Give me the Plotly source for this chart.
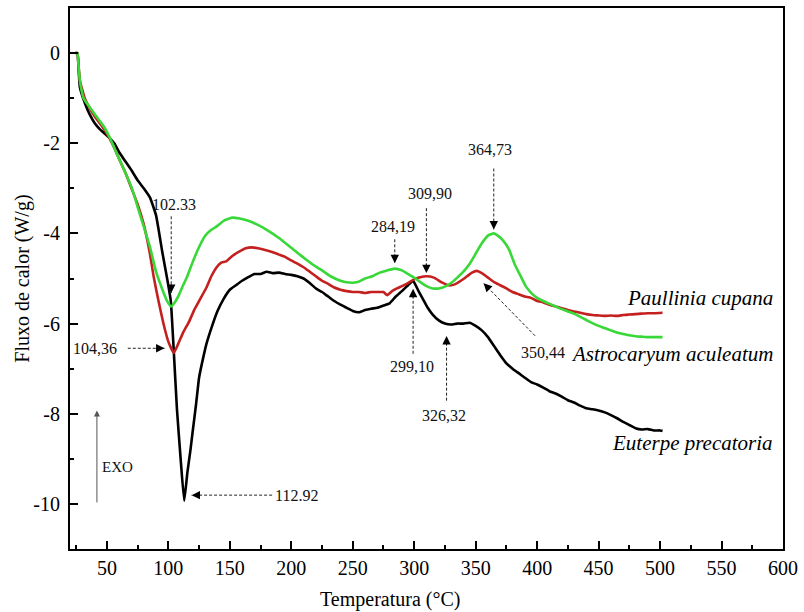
import numpy as np
import plotly.graph_objects as go

# DSC curves: temperature (°C) vs heat flow (W/g)
euterpe_t = [24.5, 26, 27, 28, 32, 36, 40, 44, 48, 52, 56, 60, 65, 70, 75, 80, 85, 90, 95, 99, 102,
             104.4, 107, 110, 112.9, 115.5, 118, 120, 122.5, 125, 128, 131, 135, 140, 145, 150, 155,
             160, 165, 170, 175, 180, 185, 190, 195, 200, 205, 210, 215, 220, 225, 230, 235, 240,
             245, 250, 255, 260, 265, 270, 275, 280, 285, 290, 295, 299.1, 303, 307, 311, 315, 320,
             325, 330, 335, 340, 345, 350, 355, 360, 365, 370, 375, 380, 385, 390, 395, 400, 405,
             410, 415, 420, 425, 430, 435, 440, 445, 450, 455, 460, 465, 470, 475, 480, 485, 490,
             495, 500, 502]
euterpe_q = [0, 0, -0.35, -0.75, -1.1, -1.36, -1.55, -1.68, -1.78, -1.88, -2.0, -2.2, -2.4, -2.6,
             -2.82, -3.0, -3.2, -3.6, -4.4, -5.0, -5.5, -6.6, -7.9, -9.0, -9.93, -9.3, -8.8, -8.35,
             -7.8, -7.2, -6.8, -6.45, -6.1, -5.72, -5.45, -5.25, -5.15, -5.05, -4.97, -4.9, -4.9,
             -4.85, -4.88, -4.87, -4.9, -4.92, -4.95, -5.0, -5.1, -5.22, -5.3, -5.4, -5.5, -5.58,
             -5.65, -5.72, -5.75, -5.7, -5.67, -5.65, -5.6, -5.55, -5.4, -5.28, -5.15, -5.05, -5.25,
             -5.45, -5.65, -5.8, -5.93, -6.0, -6.02, -6.0, -6.0, -5.98, -6.05, -6.15, -6.3, -6.5,
             -6.7, -6.88, -7.0, -7.1, -7.2, -7.3, -7.35, -7.42, -7.5, -7.55, -7.62, -7.7, -7.75,
             -7.82, -7.88, -7.9, -7.93, -7.97, -8.03, -8.1, -8.18, -8.25, -8.32, -8.35, -8.34,
             -8.37, -8.37, -8.38]

paullinia_t = [24.5, 26, 27, 28, 32, 36, 40, 44, 48, 52, 56, 60, 65, 70, 75, 80, 85, 88, 92, 96, 100,
               104.4, 108, 112, 117, 121, 125, 131, 135, 139, 143, 147, 152, 158, 163, 168, 173,
               178, 185, 190, 195, 200, 205, 210, 215, 220, 225, 230, 235, 240, 245, 250, 255, 260,
               265, 270, 275, 278, 282, 286, 290, 295, 299.1, 304, 310, 316, 322, 328, 333, 338,
               343, 347, 351, 355, 360, 365, 370, 375, 380, 385, 390, 395, 400, 405, 410, 415, 420,
               425, 430, 435, 440, 445, 450, 455, 460, 465, 470, 475, 480, 485, 490, 495, 502]
paullinia_q = [0, 0, -0.3, -0.6, -1.0, -1.22, -1.4, -1.55, -1.7, -1.88, -2.1, -2.35, -2.65, -3.0,
               -3.35, -3.8, -4.45, -4.95, -5.5, -6.0, -6.4, -6.65, -6.45, -6.2, -5.95, -5.7, -5.5,
               -5.2, -4.95, -4.76, -4.65, -4.62, -4.5, -4.4, -4.33, -4.31, -4.33, -4.36, -4.42,
               -4.47, -4.52, -4.6, -4.67, -4.75, -4.85, -4.95, -5.05, -5.12, -5.2, -5.25, -5.28,
               -5.3, -5.3, -5.32, -5.3, -5.3, -5.3, -5.37, -5.28, -5.22, -5.17, -5.1, -5.03, -4.98,
               -4.95, -4.98, -5.08, -5.15, -5.13, -5.05, -4.95, -4.87, -4.83, -4.88, -4.98, -5.08,
               -5.15, -5.22, -5.3, -5.35, -5.4, -5.43, -5.5, -5.53, -5.58, -5.62, -5.66, -5.7,
               -5.73, -5.76, -5.79, -5.81, -5.82, -5.83, -5.82, -5.83, -5.81, -5.8, -5.79, -5.78,
               -5.77, -5.77, -5.76]

astrocaryum_t = [24.5, 26, 27, 28, 31, 36, 40, 44, 48, 52, 56, 60, 65, 71, 76, 80, 85, 90, 95.5, 99,
                 102.3, 106, 109, 112, 115, 120, 125, 130, 135, 139, 145, 152, 158, 165, 172, 180,
                 190, 200, 206, 212, 218, 225, 232, 240, 247, 254, 260, 266, 272, 278, 284.2, 290,
                 295, 300, 305, 310, 315, 320, 325, 330, 335, 340, 345, 350, 355, 360, 364.7, 368,
                 372, 377, 382, 387, 391, 395.5, 400, 405, 410, 415, 420, 425, 430, 435, 440, 445,
                 450, 455, 460, 465, 470, 475, 480, 485, 490, 495, 502]
astrocaryum_q = [0, 0, -0.3, -0.6, -1.0, -1.2, -1.35, -1.5, -1.65, -1.85, -2.1, -2.35, -2.65, -3.05,
                 -3.5, -3.85, -4.3, -4.85, -5.27, -5.5, -5.62, -5.5, -5.34, -5.15, -4.98, -4.62,
                 -4.3, -4.05, -3.92, -3.85, -3.72, -3.65, -3.67, -3.72, -3.8, -3.92, -4.1, -4.32,
                 -4.45, -4.58, -4.7, -4.82, -4.95, -5.05, -5.09, -5.08, -5.0, -4.95, -4.87, -4.82,
                 -4.78, -4.82, -4.9, -4.98, -5.08, -5.17, -5.22, -5.22, -5.18, -5.1, -4.98, -4.85,
                 -4.68, -4.45, -4.22, -4.05, -4.0, -4.05, -4.15, -4.35, -4.7, -4.97, -5.18, -5.33,
                 -5.43, -5.5, -5.56, -5.62, -5.68, -5.73, -5.78, -5.85, -5.92, -5.99, -6.05, -6.1,
                 -6.15, -6.2, -6.23, -6.26, -6.28, -6.29, -6.3, -6.3, -6.3]

species = ["Euterpe precatoria", "Paullinia cupana", "Astrocaryum aculeatum"]
colors = ["#000000", "#c3201f", "#38d838"]

x_ticks = [50, 100, 150, 200, 250, 300, 350, 400, 450, 500, 550, 600]
y_ticks = [0, -2, -4, -6, -8, -10]

X_RANGE = [20, 600]
Y_RANGE = [-11, 1]
W, H = 804, 612
M = dict(l=70, r=18, t=6, b=63)
PX_X = (W - M["l"] - M["r"]) / (X_RANGE[1] - X_RANGE[0])
PX_Y = (H - M["t"] - M["b"]) / (Y_RANGE[1] - Y_RANGE[0])

curves = {
    "E": (euterpe_t, euterpe_q),
    "P": (paullinia_t, paullinia_q),
    "A": (astrocaryum_t, astrocaryum_q),
}


def level(key, t):
    tt, qq = curves[key]
    return float(np.interp(t, tt, qq))


SERIF = "Liberation Serif, Times New Roman, serif"

fig = go.Figure()
for name, (tt, qq), col in zip(species, [curves["E"], curves["P"], curves["A"]], colors):
    fig.add_trace(go.Scatter(x=tt, y=qq, mode="lines", name=name,
                             line=dict(color=col, width=2.6, shape="spline", smoothing=0.4)))

# Peak callouts: text, curve, temperature, tip offset (from the peak), tail, label position, anchor
callouts = [
    ("102.33", "A", 102.33, (0, 0.30), (None, -3.62), (2.5, -3.35), "center"),
    ("104,36", "P", 104.36, (-7.5, 0.10), (67, None), (59.5, None), "right"),
    ("112.92", "E", 112.92, (6, 0.12), (184.4, None), (185, None), "left"),
    ("284,19", "A", 284.19, (0, 0.12), (None, -4.13), (-1.7, -3.84), "center"),
    ("309,90", "P", 309.90, (0, 0.07), (None, -3.44), (3.3, -3.11), "center"),
    ("364,73", "A", 364.73, (0, 0.09), (None, -2.56), (-3.0, -2.14), "center"),
    ("299,10", "E", 299.10, (0, -0.18), (None, -6.67), (-1.3, -6.96), "center"),
    ("326,32", "E", 326.32, (0, -0.27), (None, -7.71), (-2.0, -8.04), "center"),
    ("350,44", "P", 350.44, (6, -0.27), (398.3, -6.27), (404.8, -6.65), "center"),
]

for text, key, t, (dx, dy), (tx, ty), (lx, ly), anchor in callouts:
    tip_x = t + dx
    tip_y = level(key, t) + dy
    tail_x = tip_x if tx is None else tx
    tail_y = tip_y if ty is None else ty
    # dashed leader
    fig.add_shape(type="line", xref="x", yref="y", x0=tail_x, y0=tail_y, x1=tip_x, y1=tip_y,
                  line=dict(color="#222222", width=1, dash="3px,2px"))
    # arrow head at the tip
    vx = (tail_x - tip_x) * PX_X
    vy = -(tail_y - tip_y) * PX_Y
    n = (vx ** 2 + vy ** 2) ** 0.5
    fig.add_annotation(x=tip_x, y=tip_y, xref="x", yref="y", text="",
                       showarrow=True, arrowhead=2, arrowsize=1.4, arrowwidth=1.2,
                       arrowcolor="#000000", ax=vx / n * 10, ay=vy / n * 10)
    # label
    if anchor == "center":
        label_x = t + lx if tx is None else lx
    else:
        label_x = lx
    label_y = tail_y if ly is None else ly
    fig.add_annotation(x=label_x, y=label_y, xref="x", yref="y", text=text, showarrow=False,
                       xanchor=anchor, yanchor="middle",
                       font=dict(family=SERIF, size=16, color="#111111"))

# species names next to their curves
for name, (lx, ly) in zip(species, [(593.5, -8.64), (593.5, -5.43), (593.5, -6.67)]):
    fig.add_annotation(x=lx, y=ly, xref="x", yref="y", text="<i>%s</i>" % name,
                       showarrow=False, xanchor="right", yanchor="middle",
                       font=dict(family=SERIF, size=21, color="#000000"))

# exothermic direction marker
fig.add_annotation(x=41.9, y=-7.93, ax=41.9, ay=-10.0, xref="x", yref="y", axref="x", ayref="y",
                   text="", showarrow=True, arrowhead=2, arrowsize=1.2, arrowwidth=1,
                   arrowcolor="#555555")
fig.add_annotation(x=44.3, y=-9.19, xref="x", yref="y", text="EXO", showarrow=False,
                   xanchor="left", yanchor="middle",
                   font=dict(family=SERIF, size=15, color="#111111"))

# axis titles
fig.add_annotation(x=280, y=-0.094, xref="x", yref="paper", text="Temperatura (°C)",
                   showarrow=False, xanchor="center", yanchor="middle",
                   font=dict(family=SERIF, size=20, color="#000000"))
fig.add_annotation(x=-0.067, y=0.5, xref="paper", yref="paper", text="Fluxo de calor (W/g)",
                   textangle=-90, showarrow=False, xanchor="center", yanchor="middle",
                   font=dict(family=SERIF, size=20, color="#000000"))

axis_common = dict(showline=True, linecolor="#000000", linewidth=2, mirror=True,
                   ticks="inside", tickwidth=2, tickcolor="#000000", ticklen=8,
                   showgrid=False, zeroline=False,
                   tickfont=dict(family=SERIF, size=20, color="#000000"))

fig.update_xaxes(range=X_RANGE, tickvals=x_ticks, ticktext=[str(v) for v in x_ticks],
                 minor=dict(ticks="inside", ticklen=4, tickwidth=2, tickcolor="#000000",
                            dtick=25, tick0=0, showgrid=False),
                 **axis_common)
fig.update_yaxes(range=Y_RANGE, tickvals=y_ticks, ticktext=[str(v) for v in y_ticks],
                 minor=dict(ticks="inside", ticklen=4, tickwidth=2, tickcolor="#000000",
                            dtick=1, tick0=0, showgrid=False),
                 ticklabelstandoff=4,
                 **axis_common)

fig.update_layout(width=W, height=H, margin=M, showlegend=False,
                  plot_bgcolor="#ffffff", paper_bgcolor="#ffffff")

fig.write_html("out.html")
